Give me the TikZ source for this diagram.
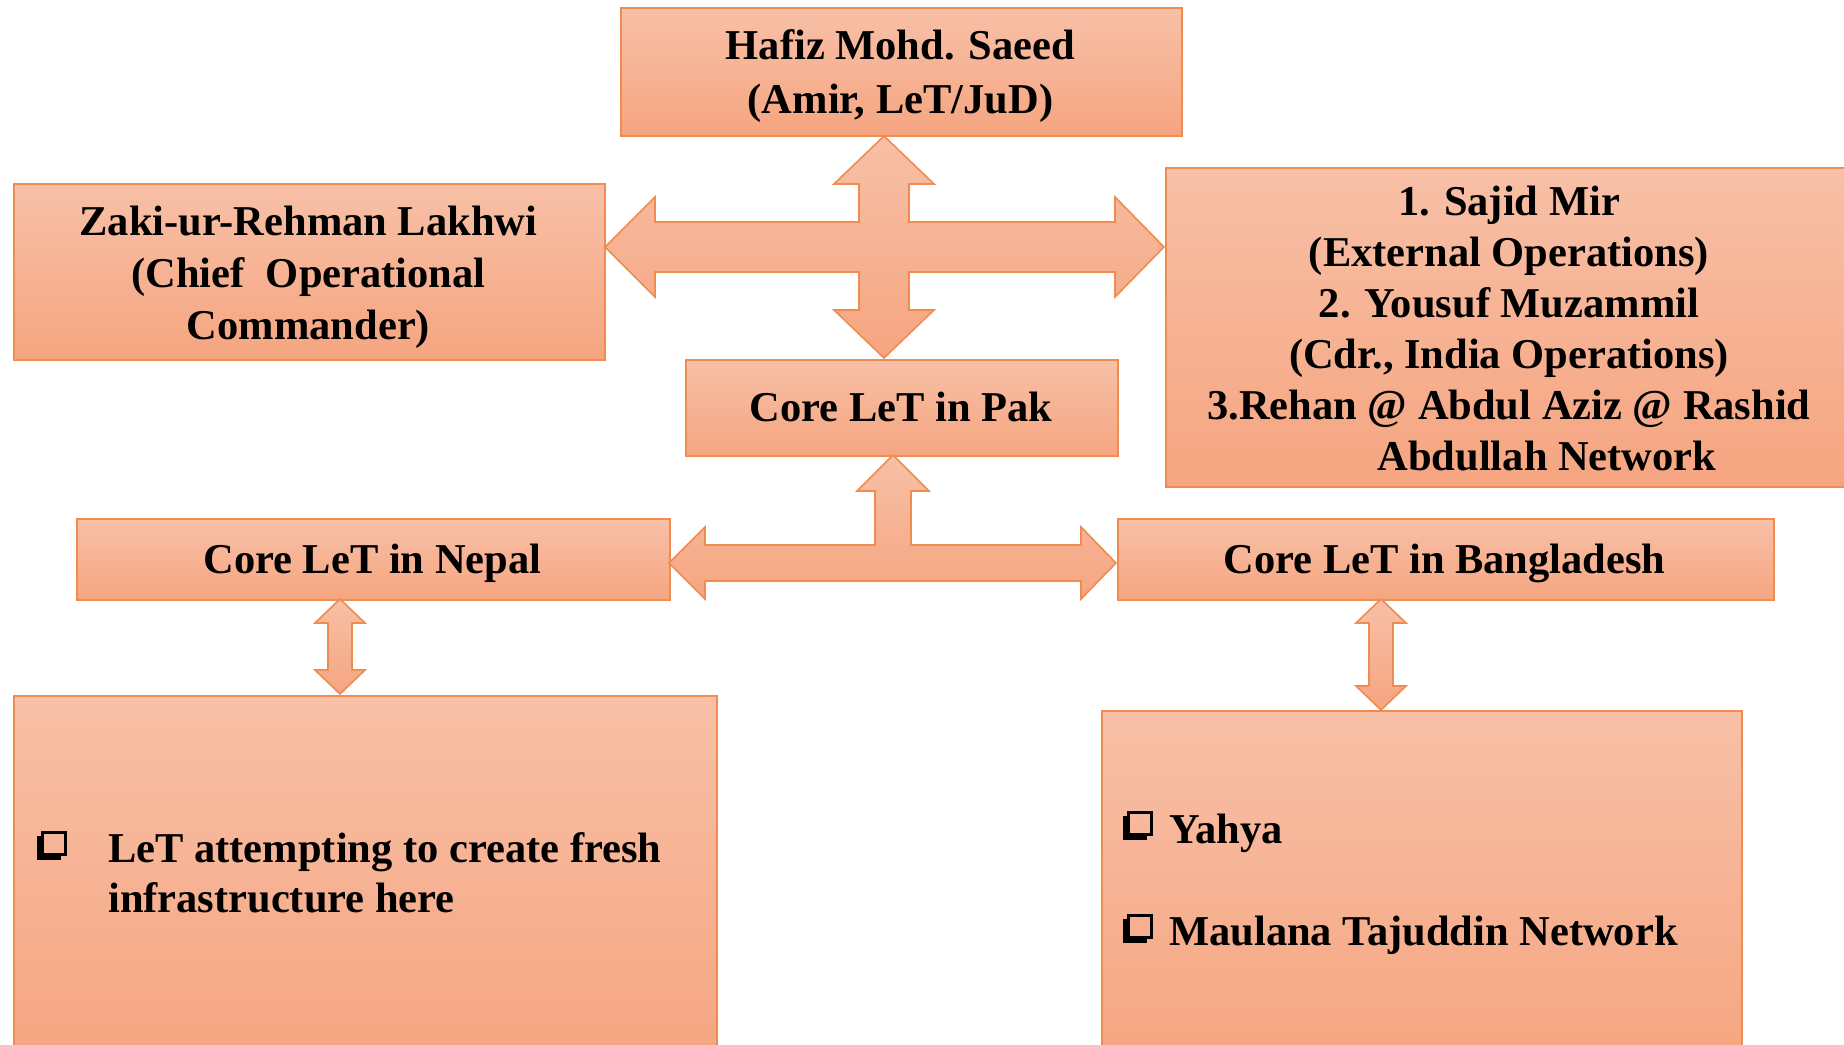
\documentclass[tikz,border=0pt]{standalone}
\usepackage{fontspec}
\setmainfont{Liberation Serif}
\definecolor{boxtop}{RGB}{247,192,167}
\definecolor{boxbot}{RGB}{246,165,128}
\definecolor{boxline}{RGB}{240,140,80}
\tikzset{
  box/.style={draw=boxline, line width=2pt, top color=boxtop, bottom color=boxbot,
    rectangle, inner sep=0pt, anchor=north west},
  blockarrow/.style={draw=boxline, line width=1.6pt, top color=boxtop, bottom color=boxbot, line join=miter},
  lbl/.style={font=\fontsize{42.5}{51}\selectfont\bfseries, align=center, inner sep=0pt, text=black},
  qbul/.pic={
    \draw[line width=3pt, black] (1.5,0) rectangle (24,22.5);
    \fill[black] (-4,4) rectangle (1.5,28);
    \fill[black] (-4,22.5) rectangle (20,28);
  }
}
\begin{document}
\begin{tikzpicture}[x=1pt,y=-1pt]
\useasboundingbox (0,0) rectangle (1844,1044);
\clip (0,0) rectangle (1844,1044);
\fill[white] (0,0) rectangle (1844,1044);

% boxes
\node[box, minimum width=561pt, minimum height=128pt] (hafiz) at (620,7) {};
\node[box, minimum width=591pt, minimum height=176pt] (zaki) at (13,183) {};
\node[box, minimum width=690pt, minimum height=319pt] (sajid) at (1165,167) {};
\node[box, minimum width=432pt, minimum height=96pt] (pak) at (685,359) {};
\node[box, minimum width=593pt, minimum height=81pt] (nepal) at (76,518) {};
\node[box, minimum width=656pt, minimum height=81pt] (bang) at (1117,518) {};
\node[box, minimum width=703pt, minimum height=370pt] (nepbox) at (13,695) {};
\node[box, minimum width=640pt, minimum height=360pt] (bangbox) at (1101,710) {};

% labels
\node[lbl, font=\fontsize{42.5}{54}\selectfont\bfseries] (hafizt) at (900.5,76) {Hafiz Mohd. Saeed\\(Amir, LeT/JuD)};
\node[lbl, font=\fontsize{42.5}{52}\selectfont\bfseries] (zakit) at (308.5,277) {Zaki-ur-Rehman Lakhwi\\(Chief\ \ Operational\\Commander)};
\node[lbl] (sajidt) at (1509,329) {1. Sajid Mir\\(External Operations)\\2. Yousuf Muzammil\\(Cdr., India Operations)\\3.Rehan @ Abdul Aziz @ Rashid\\\hspace*{76pt}Abdullah Network};
\node[lbl] (pakt) at (901,407) {Core LeT in Pak};
\node[lbl] (nepalt) at (372.5,563) {Core LeT in Nepal};
\node[lbl] (bangt) at (1444.5,563) {Core LeT in Bangladesh};

\node[lbl, anchor=base west] (nep1) at (108,862) {LeT attempting to create fresh};
\node[lbl, anchor=base west] (nep2) at (108,912) {infrastructure here};
\pic at (41,832) {qbul};

\node[lbl, anchor=base west] (bang1) at (1169,843) {Yahya};
\node[lbl, anchor=base west] (bang2) at (1169,945) {Maulana Tajuddin Network};
\pic at (1127,812) {qbul};
\pic at (1127,915) {qbul};

% cross arrow: hafiz / zaki / sajid / pak
\path[blockarrow] (884,136) -- (934,184) -- (909,184) -- (909,222) -- (1115,222) -- (1115,197)
  -- (1164,247) -- (1115,297) -- (1115,272) -- (909,272) -- (909,310) -- (934,310)
  -- (884,358) -- (834,310) -- (859,310) -- (859,272) -- (655,272) -- (655,297)
  -- (605,247) -- (655,197) -- (655,222) -- (859,222) -- (859,184) -- (834,184) -- cycle;

% T arrow: pak / nepal / bang
\path[blockarrow] (893,455) -- (929,491) -- (911,491) -- (911,545) -- (1081,545) -- (1081,527)
  -- (1116,563) -- (1081,599) -- (1081,581) -- (705,581) -- (705,599) -- (669,563)
  -- (705,527) -- (705,545) -- (875,545) -- (875,491) -- (857,491) -- cycle;

% nepal vertical arrow
\path[blockarrow] (340,599) -- (365,623) -- (352,623) -- (352,670) -- (365,670) -- (340,694)
  -- (315,670) -- (328,670) -- (328,623) -- (315,623) -- cycle;

% bangladesh vertical arrow
\path[blockarrow] (1381,599) -- (1406,623) -- (1393,623) -- (1393,686) -- (1406,686) -- (1381,710)
  -- (1356,686) -- (1369,686) -- (1369,623) -- (1356,623) -- cycle;
\end{tikzpicture}
\end{document}
